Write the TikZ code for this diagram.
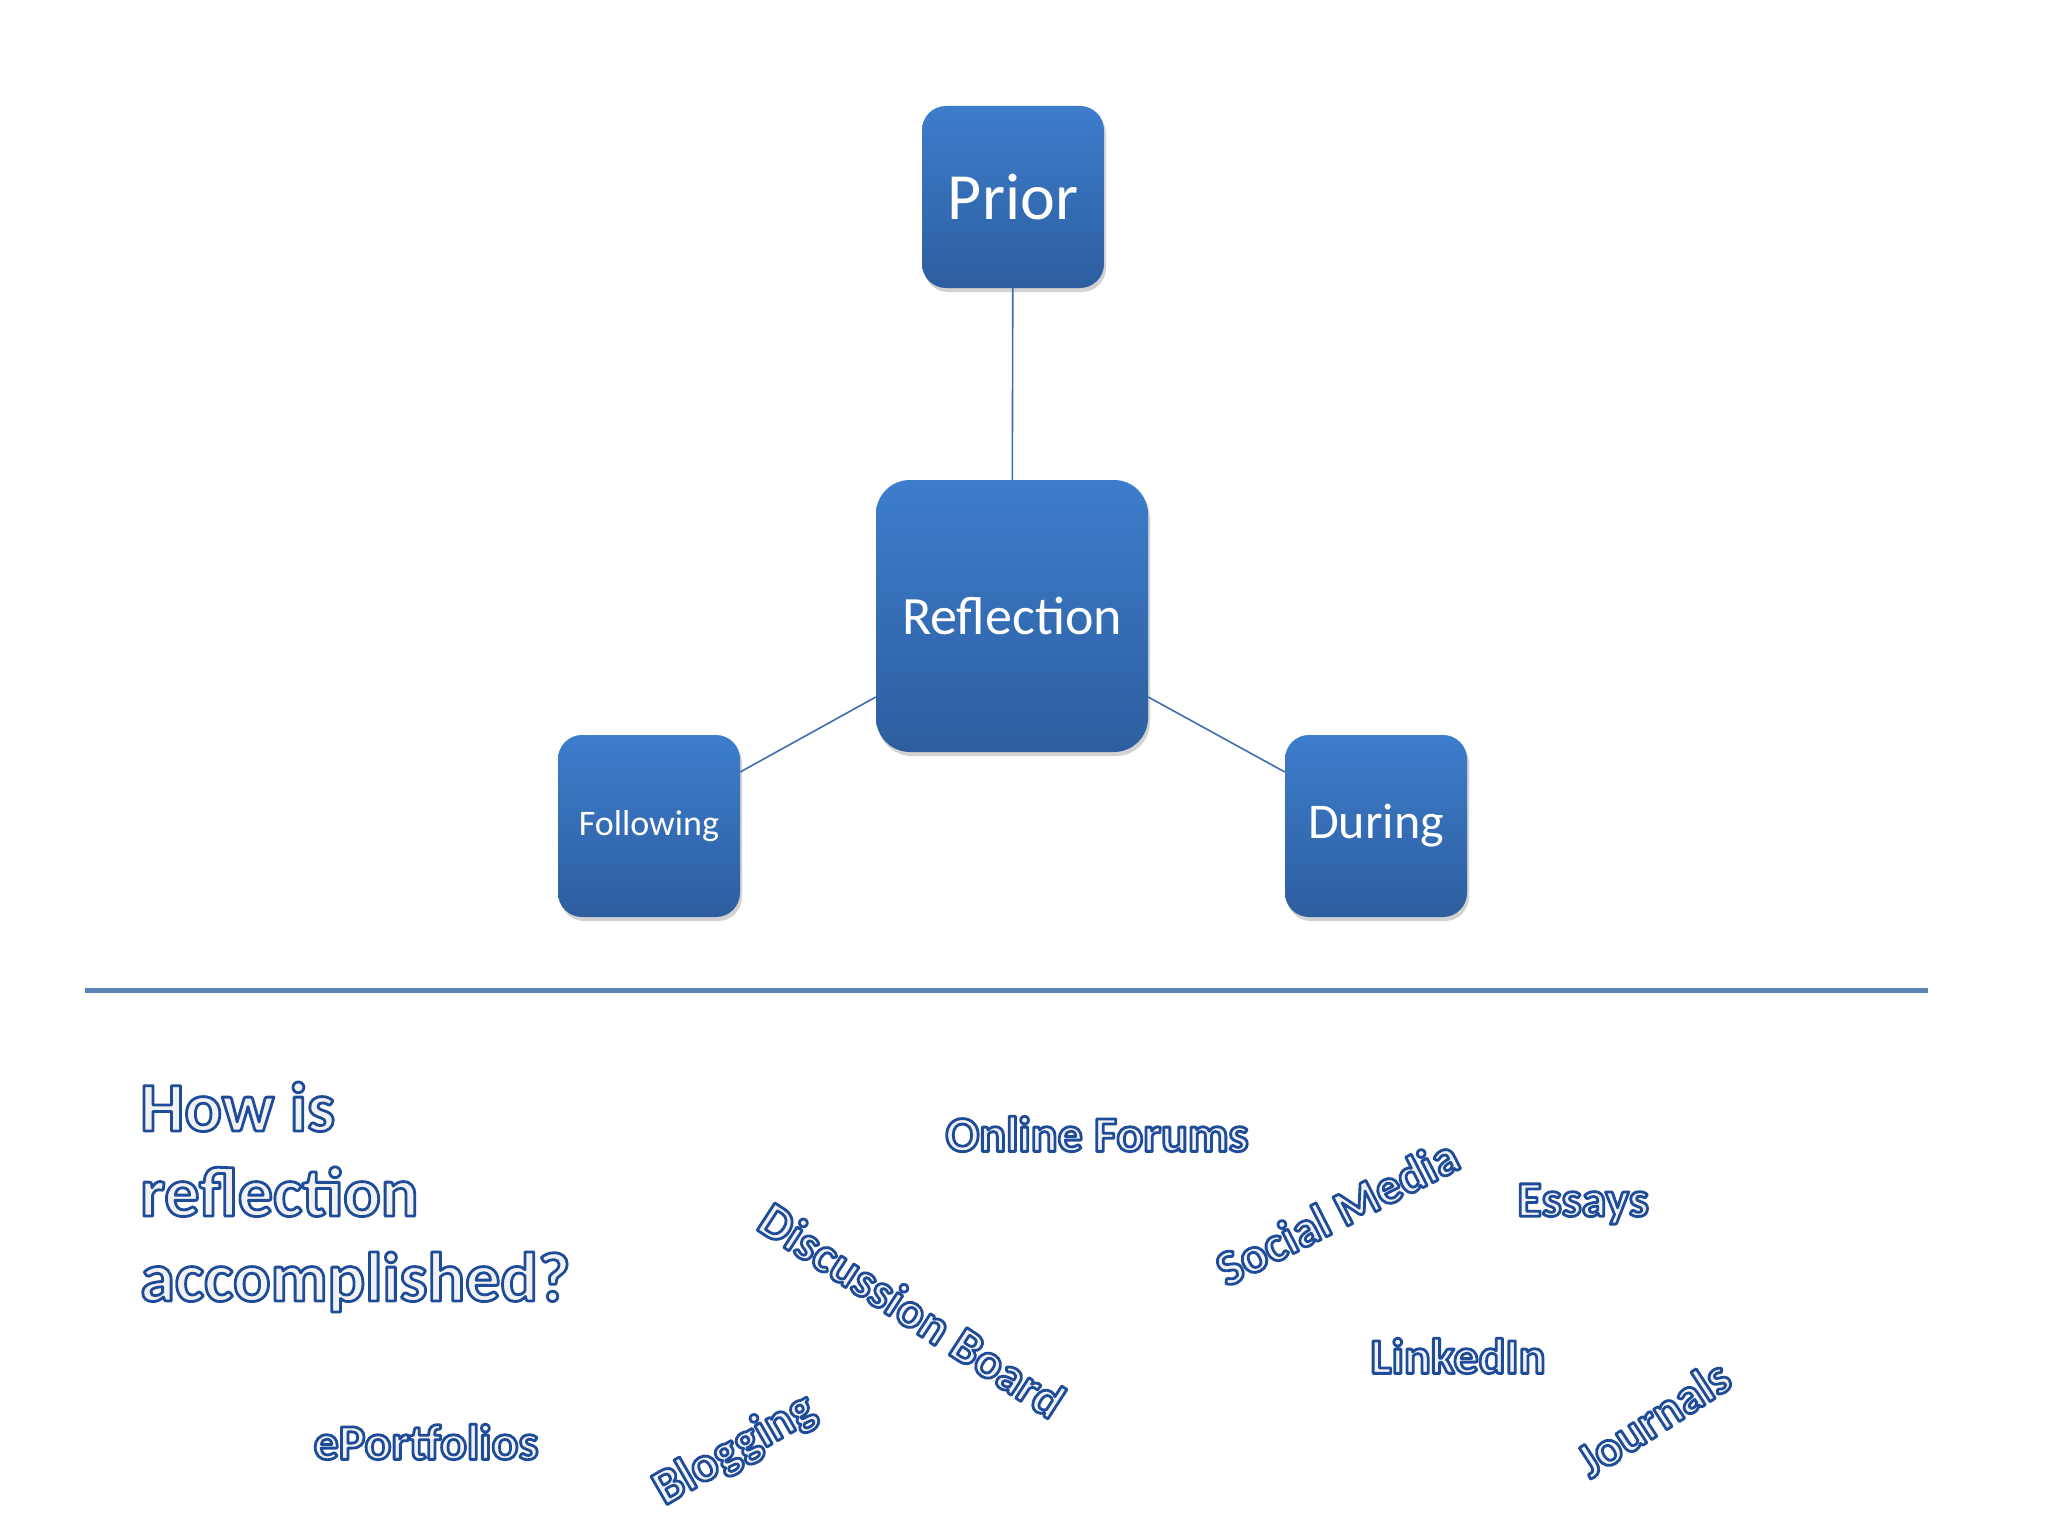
\documentclass[tikz,border=0pt]{standalone}
\usepackage{fontspec}
\setmainfont{Carlito}
\usetikzlibrary{shadows}
\definecolor{btop}{HTML}{3D7DCC}
\definecolor{bbot}{HTML}{2D5E9F}
\definecolor{lnc}{HTML}{3F6EAD}
\newcommand{\otxt}[1]{\special{pdf:literal direct 2 Tr 2.8 w 1 j 0.12 0.30 0.60 RG 0.95 0.95 0.95 rg}{\bfseries #1}\special{pdf:literal direct 0 Tr 0 w}}
\tikzset{
 box/.style={draw=none, top color=btop, bottom color=bbot, rounded corners=24pt,
   drop shadow={shadow xshift=2pt, shadow yshift=-4pt, opacity=0.35},
   text=white, align=center, inner sep=0pt},
 conn/.style={draw=lnc, line width=1.6pt},
 wtxt/.style={inner sep=0pt, anchor=center}
}
\begin{document}
\begin{tikzpicture}[x=1pt,y=-1pt]
\useasboundingbox[fill=white] (0,0) rectangle (2048,1536);
\node[box, minimum width=182pt, minimum height=182pt, font=\fontsize{66}{70}\selectfont] (prior) at (1013,197) {Prior};
\node[box, minimum width=272pt, minimum height=272pt, rounded corners=34pt, font=\fontsize{54}{58}\selectfont] (refl) at (1012,616) {Reflection};
\node[box, minimum width=182pt, minimum height=182pt, font=\fontsize{36}{40}\selectfont] (foll) at (649,826) {Following};
\node[box, minimum width=182pt, minimum height=182pt, font=\fontsize{50}{54}\selectfont] (dur) at (1376,826) {During};
\draw[conn] (prior) -- (refl);
\draw[conn] (refl.west |- 0,697) -- (foll.east |- 0,772);
\draw[conn] (refl.east |- 0,697) -- (dur.west |- 0,772);
\coordinate (la) at (85,990);
\coordinate (lb) at (1928,990);
\draw[draw=lnc!85, line width=5pt] (la) -- (lb);
\node[wtxt, anchor=west, align=left, font=\bfseries\fontsize{70}{85}\selectfont] (q) at (140,1197) {\otxt{How is}\\\otxt{reflection}\\\otxt{accomplished?}};
\begin{scope}[font=\fontsize{50}{54}\selectfont]
\node[wtxt] (of) at (1097,1134) {\otxt{Online Forums}};
\node[wtxt, rotate=27] (sm) at (1337,1212) {\otxt{Social Media}};
\node[wtxt] (es) at (1583,1204) {\otxt{Essays}};
\node[wtxt, rotate=-33] (db) at (912,1310) {\otxt{Discussion Board}};
\node[wtxt] (li) at (1458,1356) {\otxt{LinkedIn}};
\node[wtxt, rotate=33] (jo) at (1653,1418) {\otxt{Journals}};
\node[wtxt] (ep) at (426,1442) {\otxt{ePortfolios}};
\node[wtxt, rotate=30] (bl) at (735,1450) {\otxt{Blogging}};
\end{scope}
\end{tikzpicture}
\end{document}
